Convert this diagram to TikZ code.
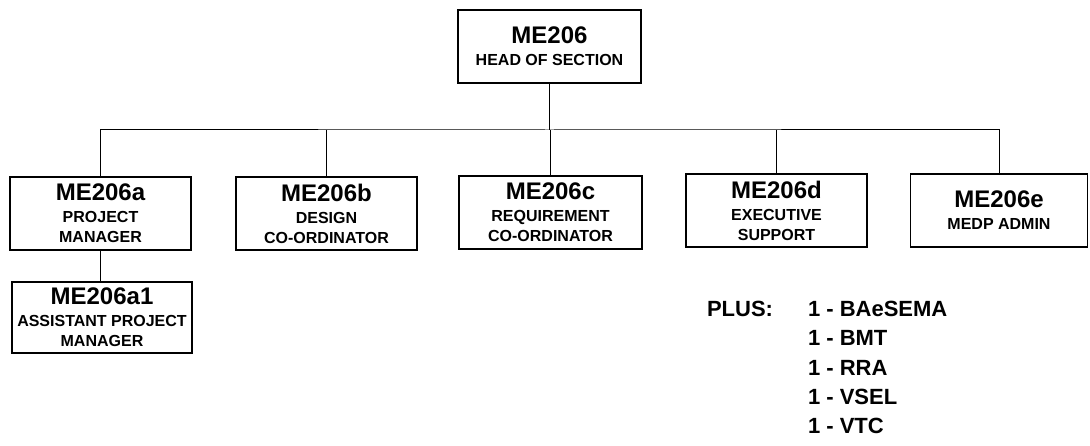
\documentclass[tikz,border=0pt]{standalone}
\usepackage{fontspec}
\setmainfont{Liberation Sans}
\begin{document}
\begin{tikzpicture}[x=1pt,y=-1pt,
  every node/.style={inner sep=0pt,outer sep=0pt},
  box/.style={draw,line width=1.3pt,rectangle,minimum height=73pt,align=center,
    font=\fontsize{16}{20}\selectfont\bfseries},
  conn/.style={line width=1pt},
  plus/.style={anchor=base west,font=\fontsize{22}{24}\selectfont\bfseries}]
\useasboundingbox (0,0) rectangle (1090,446);
\newcommand{\ttl}[1]{{\fontsize{24}{24}\selectfont #1}\\[2pt]}
\node[box,minimum width=183pt] (top) at (549.5,46.5) {\ttl{ME206}HEAD OF SECTION};
\node[box,minimum width=181pt] (a) at (100.5,213.5) {\ttl{ME206a}PROJECT\\MANAGER};
\node[box,minimum width=181pt] (b) at (326.5,213.5) {\ttl{ME206b}DESIGN\\CO-ORDINATOR};
\node[box,minimum width=183pt] (c) at (550.5,212.5) {\ttl{ME206c}REQUIREMENT\\CO-ORDINATOR};
\node[box,minimum width=181pt] (d) at (776.5,210.5) {\ttl{ME206d}EXECUTIVE\\SUPPORT};
\node[box,minimum width=177pt] (e) at (999,210.5) {\ttl{ME206e}MEDP ADMIN};
\node[box,minimum width=180pt,minimum height=71pt] (a1) at (102,317.5) {\ttl{ME206a1}ASSISTANT PROJECT\\MANAGER};
\coordinate (bus) at (549.5,130);
\draw[conn] (top.south) -- (bus);
\draw[conn] (a.north) |- (bus) -| (e.north);
\draw[conn] (b.north) -- (b.north |- bus);
\draw[conn] (c.north) -- (c.north |- bus);
\draw[conn] (d.north) -- (d.north |- bus);
\draw[conn] (a.south) -- (a.south |- a1.north);
\node[plus] (plus) at (707,317) {PLUS:};
\node[plus] (l1) at (808,317) {1 - BAeSEMA};
\node[plus] (l2) at (808,346) {1 - BMT};
\node[plus] (l3) at (808,375) {1 - RRA};
\node[plus] (l4) at (808,404) {1 - VSEL};
\node[plus] (l5) at (808,433) {1 - VTC};
\end{tikzpicture}
\end{document}
